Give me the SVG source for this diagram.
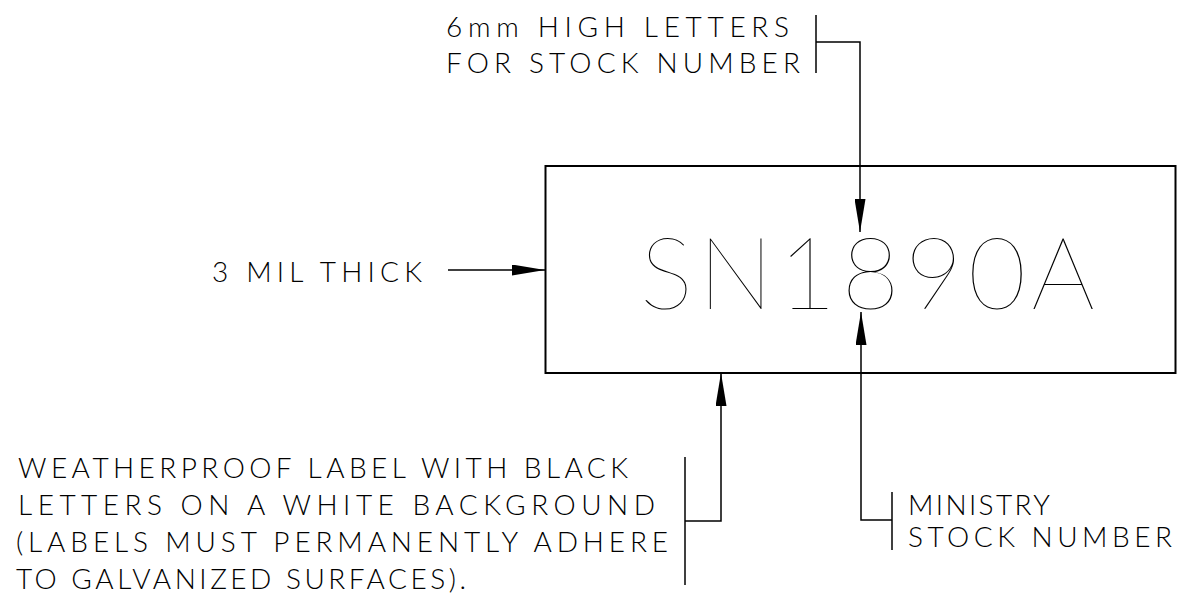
<svg xmlns="http://www.w3.org/2000/svg" width="1180" height="595" viewBox="0 0 1180 595">
  <defs>
    <marker id="arrow" viewBox="0 0 33 11" refX="33" refY="5.5" markerWidth="33" markerHeight="11" markerUnits="userSpaceOnUse" orient="auto">
      <path d="M0,0 L33,5.5 L0,11 Z" fill="#000"/>
    </marker>
    <style>
      .t { font-family: "Lato", "Liberation Sans", sans-serif; font-weight: 300; font-size: 28px; fill: #000; }
      .big { font-family: "Lato", "Liberation Sans", sans-serif; font-weight: 100; font-size: 100px; fill: #000; }
      .ln { fill: none; stroke: #000; stroke-width: 1.5; }
      .lead { fill: none; stroke: #000; stroke-width: 1.5; marker-end: url(#arrow); }
    </style>
  </defs>
  <rect width="1180" height="595" fill="#fff"/>

  <g id="label-plate">
    <rect x="545.5" y="166" width="630" height="207" fill="#fff" stroke="#000" stroke-width="2"/>
    <text class="big" x="640" y="309" textLength="455" lengthAdjust="spacing">SN1890A</text>
  </g>

  <g id="note-letters">
    <text class="t" x="446" y="36.5" textLength="343" lengthAdjust="spacing">6mm HIGH LETTERS</text>
    <text class="t" x="446" y="72.5" textLength="354" lengthAdjust="spacing">FOR STOCK NUMBER</text>
    <path class="ln" d="M816,15 V73"/>
  </g>

  <g id="note-thick">
    <text class="t" x="212" y="282" textLength="210" lengthAdjust="spacing">3 MIL THICK</text>
  </g>

  <g id="note-weatherproof">
    <text class="t" x="18" y="478" textLength="610" lengthAdjust="spacing">WEATHERPROOF LABEL WITH BLACK</text>
    <text class="t" x="18" y="515" textLength="637" lengthAdjust="spacing">LETTERS ON A WHITE BACKGROUND</text>
    <text class="t" x="16" y="552" textLength="652" lengthAdjust="spacing">(LABELS MUST PERMANENTLY ADHERE</text>
    <text class="t" x="16" y="589" textLength="450" lengthAdjust="spacing">TO GALVANIZED SURFACES).</text>
    <path class="ln" d="M685,457 V585"/>
  </g>

  <g id="note-ministry">
    <text class="t" x="908" y="515" textLength="142" lengthAdjust="spacing">MINISTRY</text>
    <text class="t" x="908" y="547" textLength="264" lengthAdjust="spacing">STOCK NUMBER</text>
    <path class="ln" d="M892,492 V550"/>
  </g>

  <g id="connectors">
    <path class="lead" d="M816,42 H860 V232"/>
    <path class="lead" d="M448,270 H545"/>
    <path class="lead" d="M892,520 H861 V312"/>
    <path class="lead" d="M685,521 H721 V373"/>
  </g>
</svg>
